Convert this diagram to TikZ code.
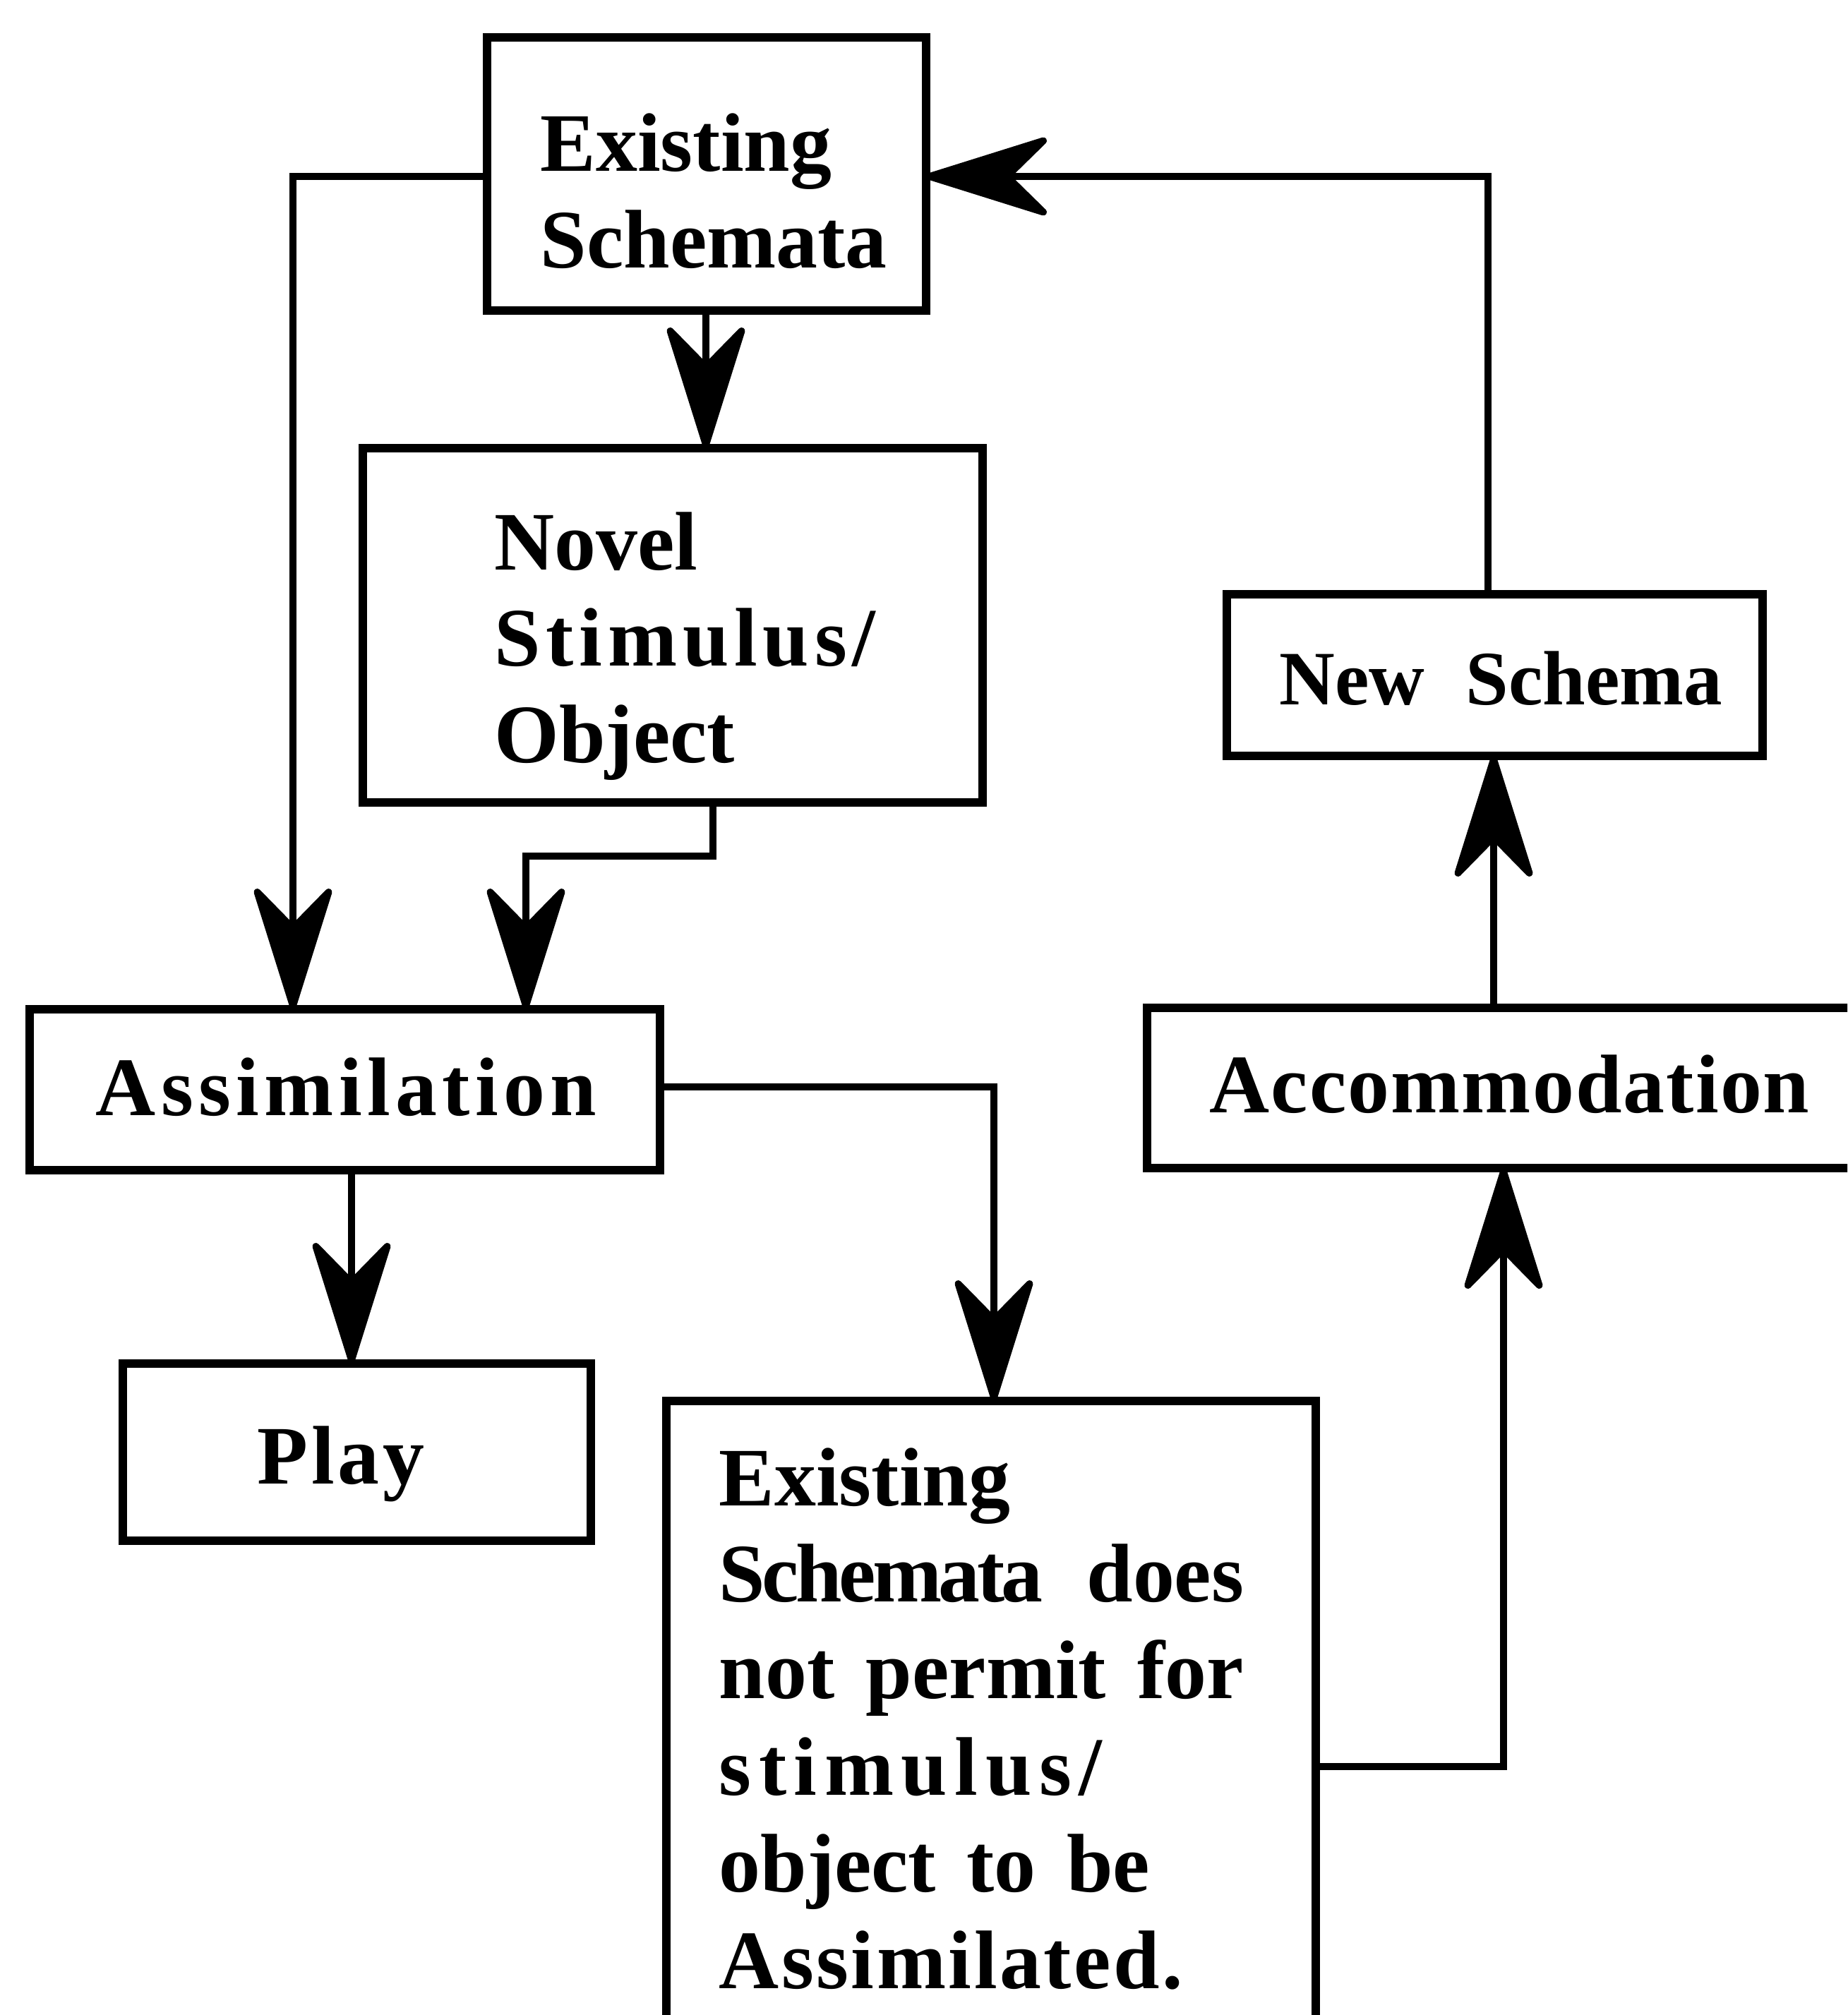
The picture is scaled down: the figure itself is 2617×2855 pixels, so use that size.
\documentclass[tikz,border=0pt]{standalone}
\usepackage{fontspec}
\setmainfont{Liberation Serif}
\usetikzlibrary{arrows.meta,fit}

% letter-spaced word: \spacedword{kern}{word}
\makeatletter
\newcommand\spacedword[2]{{\def\sw@k{\kern#1}\sw@first#2\relax}}
\def\sw@first#1{#1\sw@next}
\def\sw@next#1{\ifx\relax#1\else\sw@k#1\expandafter\sw@next\fi}
\makeatother

\begin{document}
\begin{tikzpicture}[x=0.01cm, y=-0.01cm,
  box/.style={draw, line width=3.3pt, inner sep=0pt, outer sep=0pt},
  lab/.style={inner sep=0pt, anchor=base west,
    font=\bfseries\fontsize{33.5pt}{38.9pt}\selectfont},
  arr/.style={line width=2.8pt,
    -{Stealth[length=1.95cm, width=1.22cm, inset=0.62cm, round]}}]

\path[use as bounding box] (0,0) rectangle (2617,2855);
\clip (0,0) rectangle (2617,2855);
\fill[white] (0,0) rectangle (2617,2855);

% boxes
\node[box, fit={(690,53) (1312,440)}]    (es)   {};
\node[box, fit={(514,635) (1392,1137)}]  (nov)  {};
\node[box, fit={(1738,842) (2497,1071)}] (news) {};
\node[box, fit={(42,1430) (935,1658)}]   (asm)  {};
\node[box, fit={(1625,1428) (2680,1655)}] (acc) {};
\node[box, fit={(174,1932) (837,2183)}]  (play) {};
\node[box, fit={(944,1985) (1864,2950)}] (ex2)  {};

% labels
\node[lab] (tes) at (765,243)
  {\begin{tabular}[t]{@{}l@{}}Existing\\Schemata\end{tabular}};
\node[lab] (tnov) at (700,807)
  {\begin{tabular}[t]{@{}l@{}}Novel\\\spacedword{2.2pt}{Stimulus/}\\Object\end{tabular}};
\node[lab, font=\bfseries\fontsize{31pt}{36pt}\selectfont] (tnews) at (1812,998)
  {New\hspace{0.58cm}Schema};
\node[lab] (tasm) at (135,1580) {\spacedword{2.1pt}{Assimilation}};
\node[lab] (tacc) at (1713,1576) {\spacedword{0.6pt}{Accommodation}};
\node[lab] (tplay) at (364,2102) {\spacedword{1.3pt}{Play}};
\node[lab] (tex2) at (1018,2133)
  {\begin{tabular}[t]{@{}l@{}}Existing\\
   \makebox[7.43cm][s]{\spacedword{-1.3pt}{Schemata} does}\\
   \makebox[7.43cm][s]{not permit for}\\
   \spacedword{3pt}{stimulus/}\\
   \makebox[6.1cm][s]{object to be}\\
   \spacedword{1pt}{Assimilated.}\end{tabular}};

% bend points of the connectors
\coordinate (ka) at (415,250);
\coordinate (kb) at (1000,0);
\coordinate (kc1) at (1010,1213);
\coordinate (kc2) at (745,1213);
\coordinate (kd) at (1408,1540);
\coordinate (ke) at (498,0);
\coordinate (kf) at (2130,2503);
\coordinate (kg) at (2116,0);
\coordinate (kh) at (2108,250);

% connectors
\draw[arr] (es.west |- ka) -| (asm.north -| ka);
\draw[arr] (es.south -| kb) -- (nov.north -| kb);
\draw[arr] (nov.south -| kc1) -- (kc1) -- (kc2) -- (asm.north -| kc2);
\draw[arr] (asm.east |- kd) -| (ex2.north -| kd);
\draw[arr] (asm.south -| ke) -- (play.north -| ke);
\draw[arr] (ex2.east |- kf) -| (acc.south -| kf);
\draw[arr] (acc.north -| kg) -- (news.south -| kg);
\draw[arr] (news.north -| kh) |- (es.east |- kh);

\end{tikzpicture}
\end{document}
